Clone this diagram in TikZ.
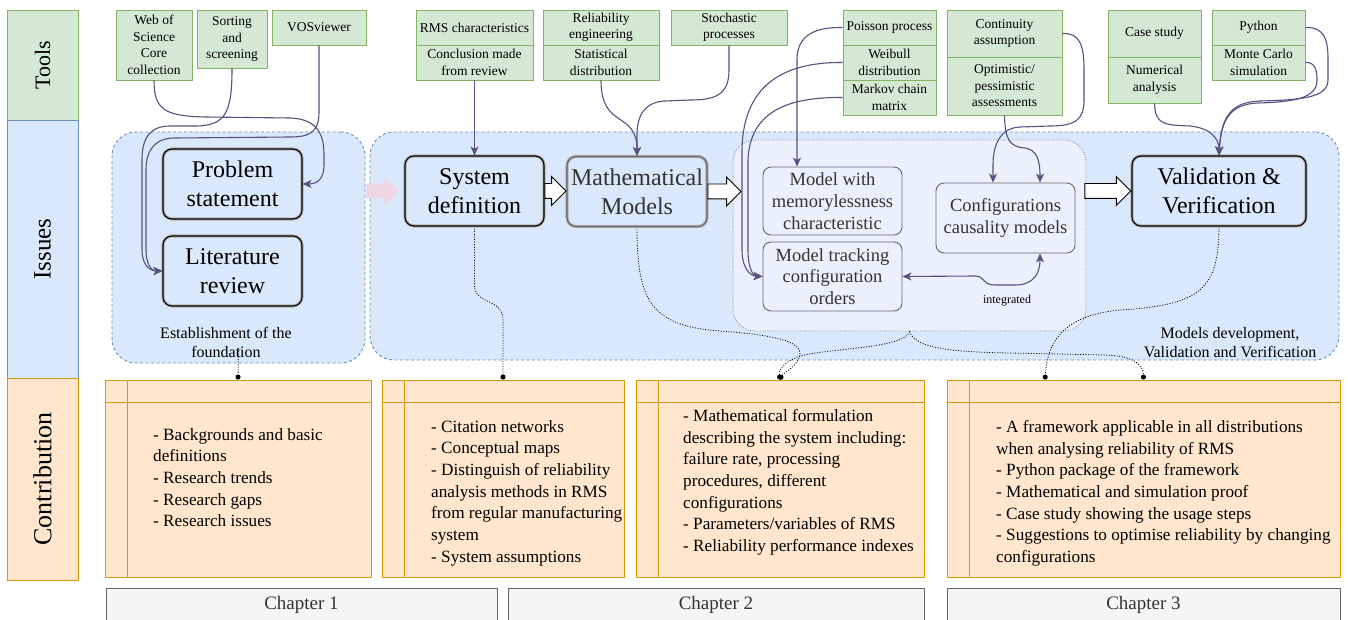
\documentclass[tikz,border=0pt]{standalone}
\usepackage{fontspec}
\setmainfont{Liberation Serif}
\usepackage{tikz}
\usetikzlibrary{shapes,arrows,arrows.meta}

\definecolor{toolFill}{RGB}{213,232,212}
\definecolor{toolLine}{RGB}{130,179,102}
\definecolor{issueFill}{RGB}{218,232,252}
\definecolor{issueLine}{RGB}{108,142,191}
\definecolor{innerFill}{RGB}{234,241,252}
\definecolor{contribFill}{RGB}{255,230,204}
\definecolor{contribLine}{RGB}{215,155,0}
\definecolor{chapFill}{RGB}{245,245,245}
\definecolor{chapLine}{RGB}{102,102,102}
\definecolor{connColor}{RGB}{86,81,126}
\definecolor{pinkArrow}{RGB}{238,214,228}
\definecolor{darkText}{RGB}{51,51,51}

\begin{document}
\begin{tikzpicture}[x=1pt,y=-1pt,
  band/.style={draw=#1Line, fill=#1Fill, line width=0.9pt, rotate=90, inner sep=0pt},
  tool/.style={draw=toolLine, fill=toolFill, line width=0.9pt, align=center, inner sep=0pt, font=\fontsize{13.5}{16.5}\selectfont},
  group/.style={draw=issueLine, fill=issueFill, line width=0.9pt, dash pattern=on 3pt off 2.5pt, rounded corners=24pt, inner sep=0pt},
  innergrp/.style={draw=black!45, fill=innerFill, line width=0.8pt, dash pattern=on 1pt off 1.5pt, rounded corners=22pt, inner sep=0pt},
  mainbox/.style={draw=#1, fill=issueFill, line width=1.1pt, rounded corners=9pt, align=center, inner sep=0pt,
    minimum width=139, minimum height=70, font=\fontsize{24}{29}\selectfont,
    postaction={draw=black!30, line width=3.2pt}, postaction={draw=#1, line width=1.1pt}},
  smallbox/.style={draw=chapLine, fill=innerFill, line width=0.9pt, rounded corners=8pt, align=center, inner sep=0pt,
    minimum width=139, text=darkText, font=\fontsize{18.5}{21.7}\selectfont},
  fatarrow/.style={single arrow, draw=black, fill=white, line width=0.9pt, inner sep=0pt, inner ysep=7pt,
    single arrow head extend=7pt, minimum height=#1},
  contrib/.style={draw=contribLine, fill=contribFill, line width=0.9pt, minimum height=197, inner sep=0pt},
  contribtext/.style={anchor=north west, align=left, inner sep=0pt, font=\fontsize{17.2}{21.7}\selectfont},
  chapter/.style={draw=chapLine, fill=chapFill, line width=0.9pt, minimum height=34, text=darkText, font=\fontsize{19}{22}\selectfont},
  grplabel/.style={align=center, inner sep=0pt, font=\fontsize{16}{19.2}\selectfont},
  conn/.style={draw=connColor, line width=1.1pt, -{Stealth[length=9pt,width=8pt,inset=2.5pt]}},
  dotconn/.style={draw=black, line width=0.8pt, dash pattern=on 1pt off 1.6pt, -{Circle[length=5pt]}}]
\useasboundingbox (0,0) rectangle (1348,620);
\clip (0,0) rectangle (1348,620);
\fill[white] (0,0) rectangle (1348,620);

\node[band=tool, minimum width=110, minimum height=71, font=\fontsize{22}{26}\selectfont] (toolsband) at (42.5,65) {Tools};
\node[band=issue, minimum width=258, minimum height=71, font=\fontsize{25}{29}\selectfont] (issuesband) at (42.5,249) {Issues};
\node[band=contrib, minimum width=202, minimum height=71, font=\fontsize{26}{30}\selectfont] (contribband) at (42.5,479) {Contribution};

\node[tool, minimum width=76, minimum height=70] (wos) at (154,45) {Web of\\Science\\Core\\collection};
\node[tool, minimum width=70, minimum height=58] (sort) at (232,39) {Sorting\\and\\screening};
\node[tool, minimum width=94, minimum height=35] (vos) at (319,27.5) {VOSviewer};
\node[tool, minimum width=117, minimum height=35] (rms) at (474.5,27.5) {RMS characteristics};
\node[tool, minimum width=117, minimum height=35] (concl) at (474.5,62.5) {Conclusion made\\from review};
\node[tool, minimum width=116, minimum height=35] (releng) at (601,27.5) {Reliability\\engineering};
\node[tool, minimum width=116, minimum height=35] (statd) at (601,62.5) {Statistical\\distribution};
\node[tool, minimum width=116, minimum height=35] (stoch) at (729,27.5) {Stochastic\\processes};
\node[tool, minimum width=93, minimum height=35] (poisson) at (889.5,27.5) {Poisson process};
\node[tool, minimum width=93, minimum height=35] (weibull) at (889.5,62.5) {Weibull\\distribution};
\node[tool, minimum width=93, minimum height=35] (markov) at (889.5,97.5) {Markov chain\\matrix};
\node[tool, minimum width=115, minimum height=47] (contin) at (1004.5,33.5) {Continuity\\assumption};
\node[tool, minimum width=115, minimum height=58] (optim) at (1004.5,86) {Optimistic/\\pessimistic\\assessments};
\node[tool, minimum width=93, minimum height=47] (casest) at (1154.5,33.5) {Case study};
\node[tool, minimum width=93, minimum height=46] (numer) at (1154.5,80) {Numerical\\analysis};
\node[tool, minimum width=93, minimum height=35] (python) at (1258.5,27.5) {Python};
\node[tool, minimum width=93, minimum height=35] (montec) at (1258.5,62.5) {Monte Carlo\\simulation};

\node[group, minimum width=253, minimum height=231] (leftgrp) at (238.5,247.5) {};
\node[group, minimum width=969, minimum height=228] (rightgrp) at (854.5,246) {};
\node[innergrp, minimum width=353, minimum height=191] (inner) at (909.5,235.5) {};

\node[grplabel] (estab) at (226,342.5) {Establishment of the\\foundation};
\node[grplabel] (mvv) at (1230,342.5) {Models development,\\Validation and Verification};

\node[contrib, minimum width=266] (c1) at (238,478.5) {};
\node[contrib, minimum width=242] (c2) at (503,478.5) {};
\node[contrib, minimum width=288] (c3) at (780,478.5) {};
\node[contrib, minimum width=393] (c4) at (1143.5,478.5) {};
\foreach \c in {c1,c2,c3,c4} {
  \draw[contribLine, line width=0.9pt] ([yshift=-23pt]\c.north west) -- ([yshift=-23pt]\c.north east);
  \draw[contribLine, line width=0.9pt] ([xshift=23pt]\c.north west) -- ([xshift=23pt]\c.south west);
}
\node[contribtext] (t1) at (153,428) {- Backgrounds and basic\\definitions\\- Research trends\\- Research gaps\\- Research issues};
\node[contribtext] (t2) at (431,420) {- Citation networks\\- Conceptual maps\\- Distinguish of reliability\\analysis methods in RMS\\from regular manufacturing\\system\\- System assumptions};
\node[contribtext] (t3) at (683,409) {- Mathematical formulation\\describing the system including:\\failure rate, processing\\procedures, different\\configurations\\- Parameters/variables of RMS\\- Reliability performance indexes};
\node[contribtext] (t4) at (996,420) {- A framework applicable in all distributions\\when analysing reliability of RMS\\- Python package of the framework\\- Mathematical and simulation proof\\- Case study showing the usage steps\\- Suggestions to optimise reliability by changing\\configurations};

\node[chapter, minimum width=391] (ch1) at (301.5,605) {Chapter 1};
\node[chapter, minimum width=416] (ch2) at (716,605) {Chapter 2};
\node[chapter, minimum width=393] (ch3) at (1143.5,605) {Chapter 3};

\draw[dotconn] ([yshift=15pt]leftgrp.south) -- (c1.north);
\draw[dotconn] (474.5,226) -- (474.5,285) .. controls (474.5,305) and (503,298) .. (503,320) -- (c2.north);
\draw[dotconn] (637,227) .. controls (637,300) and (650,326) .. (720,331) .. controls (790,336) and (808,345) .. (797,362) .. controls (790,371) and (783,373) .. (c3.north);
\draw[dotconn] (inner.south) .. controls (905,350) and (815,348) .. (795,358) .. controls (780,365) and (779,372) .. (c3.north);
\draw[dotconn] (inner.south) .. controls (915,348) and (950,352) .. (1010,353) -- (1105,355) .. controls (1135,356) and (1143,365) .. (c4.north);
\draw[dotconn] (1219,226) .. controls (1219,290) and (1200,305) .. (1120,310) .. controls (1070,315) and (1048,335) .. ([xshift=-98.5pt]c4.north);

\node[mainbox=black] (problem) at (232.5,184) {Problem\\statement};
\node[mainbox=black] (litrev) at (232.5,271) {Literature\\review};
\node[mainbox=black] (sysdef) at (474.5,191) {System\\definition};
\node[mainbox=chapLine, text=darkText, minimum width=140] (mathmod) at (637,191.5) {Mathematical\\Models};
\node[mainbox=black, minimum width=174] (vandv) at (1219,191) {Validation \&\\Verification};

\node[smallbox, minimum height=68] (memless) at (832.5,201) {Model with\\memorylessness\\characteristic};
\node[smallbox, minimum height=69] (tracking) at (832.5,276.5) {Model tracking\\configuration\\orders};
\node[smallbox, minimum height=70] (causal) at (1005.5,218) {Configurations\\causality models};

\node[fatarrow=33, fill=pinkArrow, draw=none, anchor=west] (pinkarr) at (leftgrp.east |- sysdef.west) {};
\node[fatarrow=21, anchor=west] (arrA) at (sysdef.east) {};
\node[fatarrow=33, anchor=west] (arrB) at (mathmod.east) {};
\node[fatarrow=46, anchor=east] (arrC) at (vandv.west) {};

\draw[conn] (wos.south) .. controls (154,110) and (165,116) .. (205,117) -- (290,118) .. controls (318,119) and (324,135) .. (324,155) -- (324,165) .. controls (324,178) and (318,184) .. (problem.east);
\draw[conn] (sort.south) .. controls (232,112) and (226,126) .. (195,126) -- (170,126) .. controls (150,126) and (142,138) .. (142,160) -- (142,250) .. controls (142,265) and (150,271) .. (litrev.west);
\draw[conn] (vos.south) -- (319,112) .. controls (319,132) and (310,137) .. (290,137) -- (175,138) .. controls (155,138) and (146,150) .. (146,170) -- (146,250) .. controls (146,265) and (152,271) .. (litrev.west);
\draw[conn] (concl.south) -- (sysdef.north);
\draw[conn] (statd.south) .. controls (601,130) and (637,110) .. (mathmod.north);
\draw[conn] (stoch.south) -- (729,70) .. controls (729,95) and (715,100) .. (690,100) -- (665,101) .. controls (645,102) and (637,115) .. (637,135) -- (mathmod.north);
\draw[conn] (poisson.west) .. controls (815,27) and (797,35) .. (797,60) -- ([xshift=-35.5pt]memless.north);
\draw[conn] (weibull.west) .. controls (790,62) and (743,80) .. (742,150) -- (742,250) .. controls (742,268) and (750,276) .. (tracking.west);
\draw[conn] (markov.west) .. controls (790,97) and (750,110) .. (748,160) -- (748,250) .. controls (748,268) and (753,276) .. (tracking.west);
\draw[conn] (contin.east) .. controls (1080,33) and (1084,45) .. (1084,70) -- (1084,100) .. controls (1084,120) and (1075,126) .. (1050,126) -- (1020,127) .. controls (1000,128) and (993,145) .. (993,165) -- ([xshift=-12.5pt]causal.north);
\draw[conn] (optim.south) .. controls (1005,140) and (1010,147) .. (1025,148) .. controls (1037,150) and (1040,160) .. ([xshift=34.5pt]causal.north);
\draw[conn] (numer.south) .. controls (1155,125) and (1165,125) .. (1190,126) .. controls (1210,128) and (1219,138) .. (vandv.north);
\draw[conn] (python.east) .. controls (1325,27) and (1328,40) .. (1328,60) -- (1328,80) .. controls (1328,98) and (1300,100) .. (1260,101) .. controls (1230,102) and (1221,118) .. (vandv.north);
\draw[conn] (montec.east) .. controls (1315,62) and (1317,70) .. (1317,80) .. controls (1317,98) and (1295,102) .. (1258,103) .. controls (1230,104) and (1221,120) .. (vandv.north);
\draw[conn, {Stealth[length=9pt,width=8pt,inset=2.5pt]}-{Stealth[length=9pt,width=8pt,inset=2.5pt]}] (tracking.east) -- (975,276) .. controls (985,276) and (982,285) .. (995,285) -- (1015,285) .. controls (1035,285) and (1040,272) .. ([xshift=34.5pt]causal.south);
\node[inner sep=0pt, font=\fontsize{12}{14}\selectfont] (integ) at (1007,301) {integrated};
\end{tikzpicture}
\end{document}
